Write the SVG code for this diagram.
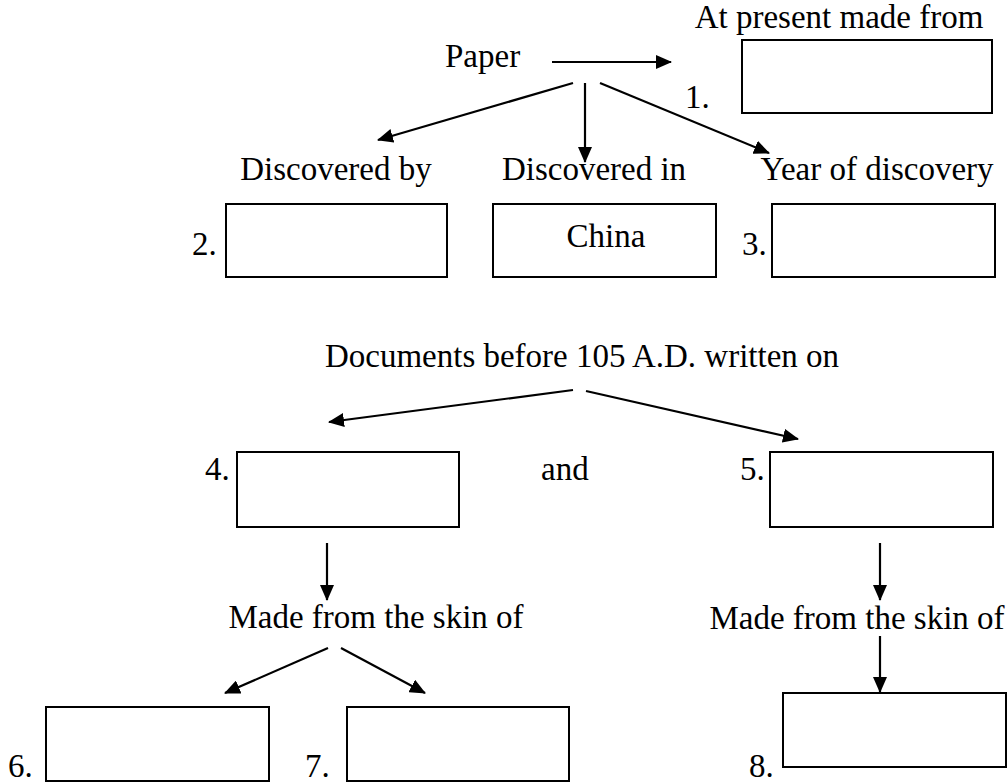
<svg xmlns="http://www.w3.org/2000/svg" width="1008" height="784" viewBox="0 0 1008 784">
<style>
text{font-family:"Liberation Serif","Times New Roman",serif;font-size:33px;fill:#000}
.m{text-anchor:middle}
.box{fill:#fff;stroke:#000;stroke-width:2}
.c line{stroke:#000;stroke-width:2.2;marker-end:url(#ah)}
</style>
<defs>
<marker id="ah" markerWidth="16" markerHeight="14" refX="15" refY="7" orient="auto" markerUnits="userSpaceOnUse">
<path d="M0,0 L16,7 L0,14 Z" fill="#000"/>
</marker>
</defs>
<rect width="1008" height="784" fill="#fff"/>
<g class="c" id="connectors">
<line x1="552" y1="62" x2="671" y2="62"/>
<line x1="573" y1="83" x2="378" y2="140"/>
<line x1="585" y1="83" x2="585" y2="162"/>
<line x1="600" y1="83" x2="769" y2="153"/>
<line x1="573" y1="390" x2="329" y2="422"/>
<line x1="586" y1="391" x2="798" y2="439"/>
<line x1="327" y1="543" x2="327" y2="600"/>
<line x1="880" y1="543" x2="880" y2="600"/>
<line x1="328" y1="648" x2="225" y2="693"/>
<line x1="341" y1="648" x2="425" y2="693"/>
<line x1="880" y1="636" x2="880" y2="692"/>
</g>
<g id="paper"><text x="445" y="67">Paper</text></g>
<g id="n1"><text class="m" x="839" y="28">At present made from</text>
<text x="685" y="108">1.</text><rect class="box" x="742" y="40" width="250" height="73"/></g>
<g id="n2"><text class="m" x="336" y="180">Discovered by</text>
<text x="192" y="255">2.</text><rect class="box" x="226" y="204" width="221" height="73"/></g>
<g id="china"><text class="m" x="594" y="180">Discovered in</text>
<rect class="box" x="493" y="204" width="223" height="73"/><text class="m" x="606" y="247">China</text></g>
<g id="n3"><text class="m" x="877" y="180">Year of discovery</text>
<text x="742" y="255">3.</text><rect class="box" x="772" y="204" width="223" height="73"/></g>
<g id="docs"><text class="m" x="582" y="367">Documents before 105 A.D. written on</text></g>
<g id="n4"><text x="205" y="480">4.</text><rect class="box" x="237" y="452" width="222" height="75"/></g>
<g id="and"><text x="541" y="480">and</text></g>
<g id="n5"><text x="740" y="480">5.</text><rect class="box" x="770" y="452" width="223" height="75"/></g>
<g id="skin1"><text class="m" x="376" y="628">Made from the skin of</text></g>
<g id="skin2"><text class="m" x="857" y="629">Made from the skin of</text></g>
<g id="n6"><text x="8" y="777">6.</text><rect class="box" x="46" y="707" width="223" height="74"/></g>
<g id="n7"><text x="305" y="777">7.</text><rect class="box" x="347" y="707" width="222" height="74"/></g>
<g id="n8"><text x="749" y="777">8.</text><rect class="box" x="783" y="693" width="223" height="74"/></g>
</svg>
